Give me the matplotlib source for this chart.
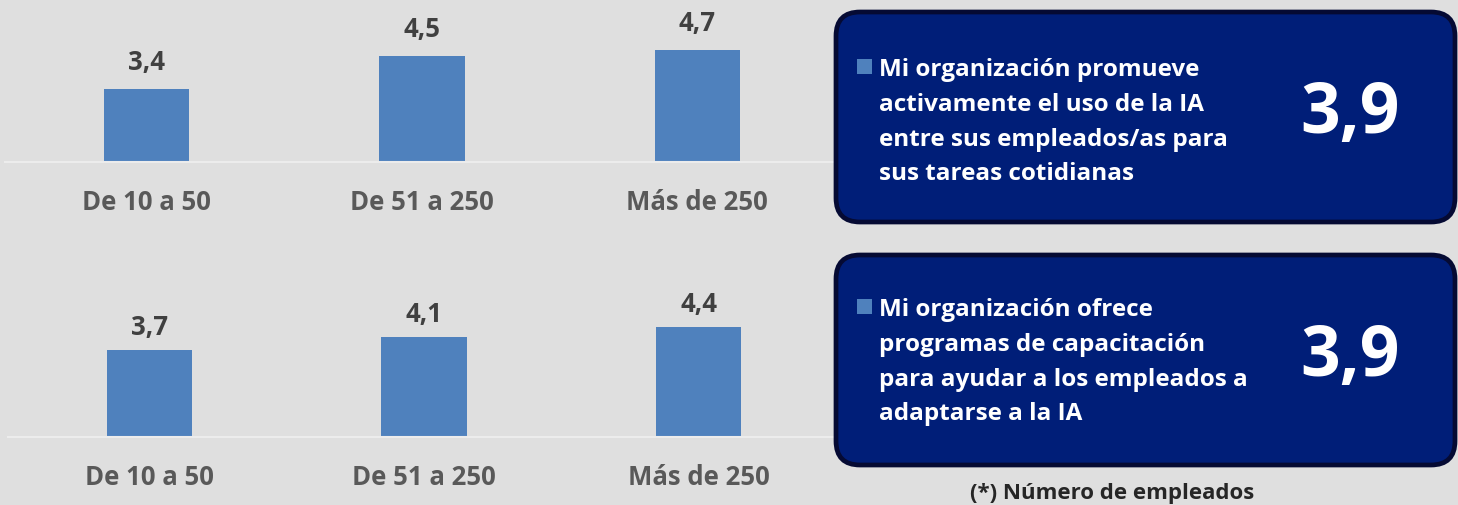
import matplotlib
matplotlib.use("Agg")
import matplotlib.pyplot as plt
from matplotlib.patches import FancyBboxPatch, Rectangle

plt.rcParams['font.family'] = ['Open Sans', 'DejaVu Sans']
plt.rcParams['font.weight'] = 'bold'

categories = ['De 10 a 50', 'De 51 a 250', 'Más de 250']
promueve = [3.4, 4.5, 4.7]
capacita = [3.7, 4.1, 4.4]
promueve_label = 'Mi organización promueve\nactivamente el uso de la IA\nentre sus empleados/as para\nsus tareas cotidianas'
capacita_label = 'Mi organización ofrece\nprogramas de capacitación\npara ayudar a los empleados a\nadaptarse a la IA'
promueve_total = '3,9'
capacita_total = '3,9'
footnote = '(*) Número de empleados'

W, H = 1458, 506
BG = '#dfdfdf'
BAR = '#4f81bd'
NAVY = '#001e78'

fig = plt.figure(figsize=(W / 100, H / 100), dpi=100, facecolor=BG)


def px(x0, y0, x1, y1):
    # pixel box (top-left origin) -> figure fraction [left, bottom, width, height]
    return [x0 / W, 1 - y1 / H, (x1 - x0) / W, (y1 - y0) / H]


def bar_panel(rect, values, ylim, xlim, lab_off):
    ax = fig.add_axes(rect)
    ax.set_facecolor('none')
    x = range(len(values))
    ax.bar(x, [v - 1 for v in values], bottom=1, width=0.31, color=BAR)
    for i, v in enumerate(values):
        ax.annotate(f'{v:.1f}'.replace('.', ','), (i, v), xytext=(0, lab_off),
                    textcoords='offset pixels', ha='center', va='bottom',
                    fontsize=18.5, color='#404040', fontweight='bold')
    ax.set_xlim(*xlim)
    ax.set_ylim(*ylim)
    for s in ['top', 'right', 'left']:
        ax.spines[s].set_visible(False)
    ax.spines['bottom'].set_color('#ececec')
    ax.spines['bottom'].set_linewidth(1.5)
    ax.set_yticks([])
    ax.set_xticks(list(x))
    ax.set_xticklabels(categories, fontsize=18.5, color='#595959', fontweight='bold')
    ax.tick_params(axis='x', length=0, pad=19)
    return ax


bar_panel(px(5, 0, 835, 163), promueve, (1, 1 + 163 / 30.3), (-0.514, 2.5), 14)
bar_panel(px(8, 275, 836, 438), capacita, (1, 1 + 163 / 32.3), (-0.514, 2.5), 10)

# overlay in pixel coordinates for the two summary boxes
ov = fig.add_axes([0, 0, 1, 1])
ov.set_xlim(0, W)
ov.set_ylim(H, 0)
ov.axis('off')
ov.patch.set_alpha(0)


def info_box(y0, y1, text, total, top_off):
    x0, x1 = 836, 1455
    ov.add_patch(FancyBboxPatch((x0, y0), x1 - x0, y1 - y0,
                                boxstyle='round,pad=0,rounding_size=24',
                                facecolor=NAVY, edgecolor='#050a33', linewidth=3.4))
    ov.add_patch(Rectangle((857, y0 + top_off + 2), 15, 15, facecolor=BAR, edgecolor='none'))
    ov.text(879, y0 + top_off, text, ha='left', va='top',
            fontsize=17.5, color='white', fontweight='bold', linespacing=1.6)
    ov.text(1350, y0 + 102, total, ha='center', va='center',
            fontsize=50, color='white', fontweight='bold')


info_box(13, 223, promueve_label, promueve_total, 45)
info_box(256, 466, capacita_label, capacita_total, 42)

ov.text(1112, 494, footnote, ha='center', va='center',
        fontsize=16, color='#262626', fontweight='bold')

fig.savefig('out.png', dpi=100, facecolor=BG)
